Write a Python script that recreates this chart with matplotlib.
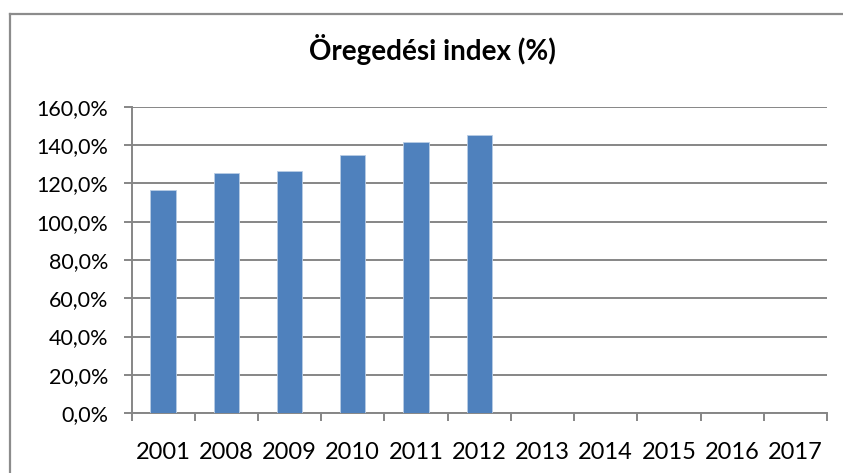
import matplotlib
matplotlib.use("Agg")
import matplotlib.pyplot as plt
from matplotlib.lines import Line2D
import numpy as np

plt.rcParams['font.family'] = ['Lato', 'DejaVu Sans']

title = "Öregedési index (%)"
years = ["2001", "2008", "2009", "2010", "2011", "2012", "2013", "2014", "2015", "2016", "2017"]
values = [116.5, 125.5, 126.6, 134.8, 141.7, 145.6, None, None, None, None, None]
yticks = [0, 20, 40, 60, 80, 100, 120, 140, 160]

W, H = 843, 473
fig = plt.figure(figsize=(W / 100, H / 100), dpi=100)
ax = fig.add_axes([131.5 / W, 1 - 413 / H, (827 - 131.5) / W, (413 - 107) / H])

x = np.arange(len(years))
vals = [v if v is not None else 0 for v in values]
mask = [v is not None for v in values]
ax.bar(x[mask], np.array(vals)[mask], width=0.4, color="#4F81BD", edgecolor="#B9CDE5", linewidth=0.6, zorder=3)

grid_c = "#868686"
ax.set_ylim(0, 160)
ax.set_xlim(-0.5, len(years) - 0.5)
ax.set_yticks(yticks)
ax.set_yticklabels([f"{t:.1f}%".replace(".", ",") for t in yticks])
ax.yaxis.grid(True, color=grid_c, linewidth=1.4, zorder=0)
ax.set_xticks(x)
ax.set_xticklabels(years)
ax.set_xticks(np.arange(-0.5, len(years)), minor=True)
ax.tick_params(axis='x', which='major', length=0, labelsize=17, pad=21, colors="black")
ax.tick_params(axis='x', which='minor', length=6, width=1.4, color=grid_c, direction='out')
ax.tick_params(axis='y', length=6, width=1.4, color=grid_c, labelsize=15.5, pad=11)
for s in ['top', 'right']:
    ax.spines[s].set_visible(False)
for s in ['left', 'bottom']:
    ax.spines[s].set_color(grid_c)
    ax.spines[s].set_linewidth(1.4)

fig.text(432 / W, 1 - 60 / H, title, ha='center', va='baseline', fontsize=20, fontweight='bold')

fig.add_artist(Line2D([9.5 / W, 9.5 / W], [0, 1 - 14 / H], color="#8C8C8C", linewidth=1.6, transform=fig.transFigure))
fig.add_artist(Line2D([9.5 / W, 1], [1 - 14 / H, 1 - 14 / H], color="#8C8C8C", linewidth=1.6, transform=fig.transFigure))

fig.savefig("out.png", dpi=100, facecolor="white")
